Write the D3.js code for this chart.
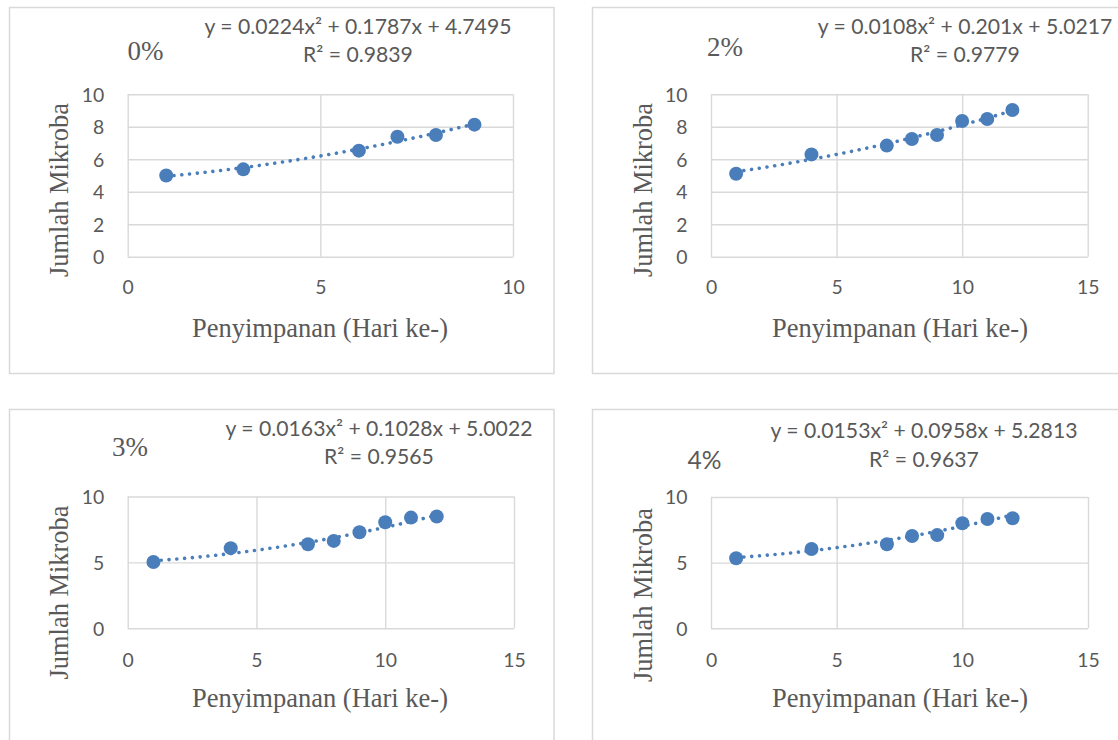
<!DOCTYPE html>
<html>
<head>
<meta charset="utf-8">
<script src="https://cdn.jsdelivr.net/npm/d3@7"></script>
<style>
  html, body { margin: 0; padding: 0; background: #fff; }
  svg { display: block; }
</style>
</head>
<body>
<script>
// ---------------- DATA ----------------
const panelLabels = ["0%", "2%", "3%", "4%"];
const days0 = [1, 3, 6, 7, 8, 9];
const vals0 = [5.00, 5.38, 6.53, 7.39, 7.49, 8.13];
const days2 = [1, 4, 7, 8, 9, 10, 11, 12];
const vals2 = [5.11, 6.30, 6.84, 7.25, 7.49, 8.36, 8.48, 9.03];
const days3 = [1, 4, 7, 8, 9, 10, 11, 12];
const vals3 = [5.03, 6.08, 6.38, 6.63, 7.29, 8.05, 8.40, 8.48];
const days4 = [1, 4, 7, 8, 9, 10, 11, 12];
const vals4 = [5.33, 6.04, 6.40, 7.03, 7.10, 8.00, 8.32, 8.38];
// trendline coefficients [a, b, c] for y = a x^2 + b x + c
const coef0 = [0.0224, 0.1787, 4.7495];
const coef2 = [0.0108, 0.201, 5.0217];
const coef3 = [0.0163, 0.1028, 5.0022];
const coef4 = [0.0153, 0.0958, 5.2813];
const eqLabels = [
  "y = 0.0224x\u00B2 + 0.1787x + 4.7495",
  "y = 0.0108x\u00B2 + 0.201x + 5.0217",
  "y = 0.0163x\u00B2 + 0.1028x + 5.0022",
  "y = 0.0153x\u00B2 + 0.0958x + 5.2813"
];
const r2Labels = ["R\u00B2 = 0.9839", "R\u00B2 = 0.9779", "R\u00B2 = 0.9565", "R\u00B2 = 0.9637"];
const xTicks0 = [0, 5, 10];
const xTicks = [0, 5, 10, 15];
const yTicksTop = [0, 2, 4, 6, 8, 10];
const yTicksBottom = [0, 5, 10];
const xTitle = "Penyimpanan (Hari ke-)";
const yTitle = "Jumlah Mikroba";

// ---------------- LAYOUT ----------------
const W = 1118, H = 740;
const BLUE = "#4a7ebb", GRID = "#d9d9d9", TXT = "#595959";
const SANS = "Lato, 'Open Sans', sans-serif";
const SERIF = "'Liberation Serif', 'Times New Roman', serif";

const svg = d3.select("body").append("svg").attr("width", W).attr("height", H);
svg.append("rect").attr("width", W).attr("height", H).attr("fill", "#fff");

function measure(text, family, size) {
  const t = svg.append("text").attr("font-family", family).attr("font-size", size).text(text);
  const w = t.node().getComputedTextLength();
  t.remove();
  return w;
}
function fitSize(text, family, target) {
  return 100 * target / measure(text, family, 100);
}
const eqSize = fitSize(eqLabels[0], SANS, 307);
const tickSize = fitSize("10", SANS, 22.5);
const xTitleSize = fitSize(xTitle, SERIF, 256);
const yTitleSize = fitSize(yTitle, SERIF, 174);
const pctSize = fitSize("0%", SERIF, 36);
const pctSansSize = fitSize("4%", SANS, 34);

const panels = [
  { days: days0, vals: vals0, coef: coef0, xMax: 10, xt: xTicks0, yt: yTicksTop,
    frame: [9.5, 7.5, 554, 373.5], plot: [127.7, 513, 94.3, 256.7],
    title: [145.5, 51], titleSerif: true, eqX: 358, eqY: 27, r2Y: 55,
    yTitlePos: [59, 190], xTitlePos: [320, 328], xLabY: 31 },
  { days: days2, vals: vals2, coef: coef2, xMax: 15, xt: xTicks, yt: yTicksTop,
    frame: [592.5, 7.5, 1130, 373.5], plot: [711, 1087.7, 94.3, 256.7],
    title: [725, 47], titleSerif: true, eqX: 965, eqY: 27, r2Y: 55,
    yTitlePos: [642.7, 190], xTitlePos: [900, 328], xLabY: 31 },
  { days: days3, vals: vals3, coef: coef3, xMax: 15, xt: xTicks, yt: yTicksBottom,
    frame: [9.5, 409.5, 554, 760], plot: [127.7, 514, 496.5, 628.3],
    title: [130, 447], titleSerif: true, eqX: 379, eqY: 429, r2Y: 457,
    yTitlePos: [59, 592.5], xTitlePos: [320, 698], xLabY: 32 },
  { days: days4, vals: vals4, coef: coef4, xMax: 15, xt: xTicks, yt: yTicksBottom,
    frame: [592.5, 409.5, 1130, 760], plot: [711, 1088, 497, 628.3],
    title: [704.6, 460.5], titleSerif: false, eqX: 924, eqY: 431, r2Y: 460,
    yTitlePos: [642.7, 595], xTitlePos: [900, 698], xLabY: 32 }
];

panels.forEach((p, i) => {
  const g = svg.append("g");
  const [fx0, fy0, fx1, fy1] = p.frame;
  g.append("rect").attr("x", fx0).attr("y", fy0).attr("width", fx1 - fx0).attr("height", fy1 - fy0)
    .attr("fill", "#fff").attr("stroke", GRID).attr("stroke-width", 1.5);

  const [px0, px1, py0, py1] = p.plot;
  const x = d3.scaleLinear().domain([0, p.xMax]).range([px0, px1]);
  const y = d3.scaleLinear().domain([0, 10]).range([py1, py0]);

  // x gridlines + labels
  const gx = g.append("g").attr("transform", `translate(0,${py1})`)
    .call(d3.axisBottom(x).tickValues(p.xt).tickSize(-(py1 - py0)).tickFormat(d3.format("d")));
  gx.select(".domain").remove();
  gx.selectAll(".tick line").attr("stroke", GRID).attr("stroke-width", 1.4);
  gx.selectAll(".tick text").attr("y", p.xLabY).attr("dy", "0.35em")
    .attr("fill", TXT).attr("font-family", SANS).attr("font-size", tickSize);

  // y gridlines + labels
  const gy = g.append("g").attr("transform", `translate(${px0},0)`)
    .call(d3.axisLeft(y).tickValues(p.yt).tickSize(-(px1 - px0)).tickPadding(23.5).tickFormat(d3.format("d")));
  gy.select(".domain").remove();
  gy.selectAll(".tick line").attr("stroke", GRID).attr("stroke-width", 1.4);
  gy.selectAll(".tick text").attr("dy", "0.35em")
    .attr("fill", TXT).attr("font-family", SANS).attr("font-size", tickSize);

  // trendline (polynomial from displayed equation)
  const xmin = d3.min(p.days), xmax = d3.max(p.days);
  const samples = d3.range(xmin, xmax + 1e-9, (xmax - xmin) / 200);
  const [a, b, c] = p.coef;
  g.append("path")
    .datum(samples)
    .attr("d", d3.line().x(d => x(d)).y(d => y(a * d * d + b * d + c)))
    .attr("fill", "none").attr("stroke", BLUE).attr("stroke-width", 3.6)
    .attr("stroke-linecap", "round").attr("stroke-dasharray", "0.01 7.8");

  // points
  g.selectAll("circle.pt").data(p.days.map((d, k) => [d, p.vals[k]]))
    .join("circle").attr("class", "pt")
    .attr("cx", d => x(d[0])).attr("cy", d => y(d[1])).attr("r", 7).attr("fill", BLUE);

  // equation + R2
  g.append("text").attr("x", p.eqX).attr("y", p.eqY).attr("dy", "0.35em")
    .attr("text-anchor", "middle").attr("font-family", SANS).attr("font-size", eqSize)
    .attr("fill", TXT).text(eqLabels[i]);
  g.append("text").attr("x", p.eqX).attr("y", p.r2Y).attr("dy", "0.35em")
    .attr("text-anchor", "middle").attr("font-family", SANS).attr("font-size", eqSize)
    .attr("fill", TXT).text(r2Labels[i]);

  // panel label
  g.append("text").attr("x", p.title[0]).attr("y", p.title[1]).attr("dy", "0.35em")
    .attr("text-anchor", "middle")
    .attr("font-family", p.titleSerif ? SERIF : SANS)
    .attr("font-size", p.titleSerif ? pctSize : pctSansSize)
    .attr("fill", TXT).text(panelLabels[i]);

  // axis titles
  g.append("text").attr("transform", `translate(${p.yTitlePos[0]},${p.yTitlePos[1]}) rotate(-90)`)
    .attr("dy", "0.35em").attr("text-anchor", "middle")
    .attr("font-family", SERIF).attr("font-size", yTitleSize).attr("fill", TXT).text(yTitle);
  g.append("text").attr("x", p.xTitlePos[0]).attr("y", p.xTitlePos[1]).attr("dy", "0.35em")
    .attr("text-anchor", "middle")
    .attr("font-family", SERIF).attr("font-size", xTitleSize).attr("fill", TXT).text(xTitle);
});
</script>
</body>
</html>
